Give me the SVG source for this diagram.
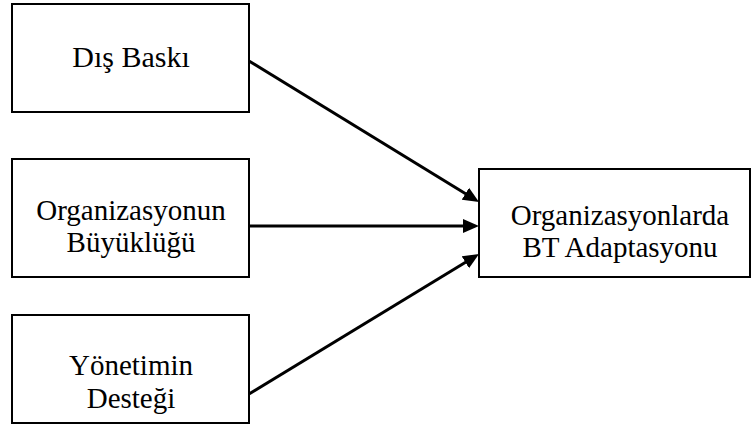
<svg xmlns="http://www.w3.org/2000/svg" width="751" height="425" viewBox="0 0 751 425">
<style>
.box{fill:#fff;stroke:#000;stroke-width:2}
.lbl{font-family:"Liberation Serif","Times New Roman",serif;font-size:29px;fill:#000;text-anchor:middle}
.conn{stroke:#000;stroke-width:3;fill:none}
</style>
<defs>
<marker id="ah" markerUnits="userSpaceOnUse" markerWidth="17" markerHeight="15" refX="6" refY="7" orient="auto" viewBox="0 0 17 14">
<path d="M0,0 L16,7 L0,14 z" fill="#000"/>
</marker>
</defs>
<rect width="751" height="425" fill="#fff"/>
<g id="node-dis-baski">
<rect class="box" x="12" y="4" width="237" height="108"/>
<text class="lbl" x="131" y="67" style="font-size:30px">Dış Baskı</text>
</g>
<g id="node-organizasyonun-buyuklugu">
<rect class="box" x="12" y="159" width="237" height="118"/>
<text class="lbl" x="131" y="219.5">Organizasyonun</text>
<text class="lbl" x="131" y="252">Büyüklüğü</text>
</g>
<g id="node-yonetimin-destegi">
<rect class="box" x="12" y="315" width="237" height="108"/>
<text class="lbl" x="131" y="374.5">Yönetimin</text>
<text class="lbl" x="131" y="407.5">Desteği</text>
</g>
<g id="node-bt-adaptasyonu">
<rect class="box" x="479" y="169" width="271" height="108"/>
<text class="lbl" x="620" y="224.5">Organizasyonlarda</text>
<text class="lbl" x="620" y="257">BT Adaptasyonu</text>
</g>
<g id="connectors">
<line class="conn" x1="249" y1="61" x2="470.5" y2="196.8" marker-end="url(#ah)"/>
<line class="conn" x1="249" y1="226" x2="469" y2="226" marker-end="url(#ah)"/>
<line class="conn" x1="249" y1="394" x2="470.5" y2="259.2" marker-end="url(#ah)"/>
</g>
</svg>
